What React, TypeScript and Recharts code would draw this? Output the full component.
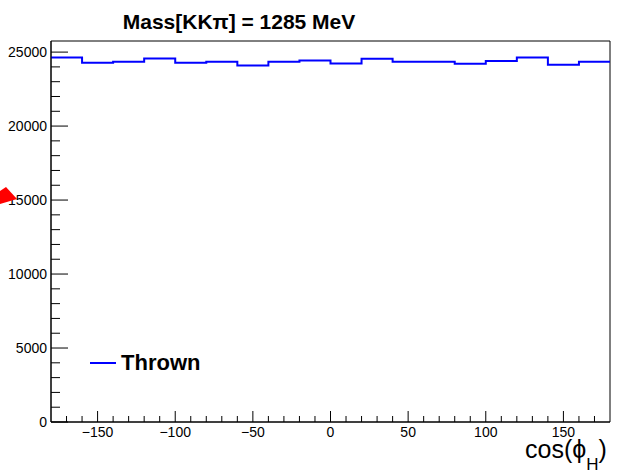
import React from "react"
import {
  ComposedChart,
  Line,
  XAxis,
  YAxis,
  ReferenceArea,
  Legend,
} from "recharts"

// bin low edges (deg) and thrown counts per bin
const binEdges = [-180, -160, -140, -120, -100, -80, -60, -40, -20, 0, 20, 40, 60, 80, 100, 120, 140, 160]
const thrown = [24635, 24280, 24345, 24570, 24280, 24345, 24100, 24345, 24440, 24230, 24550, 24350, 24350, 24210, 24400, 24630, 24150, 24350]
const xMax = 180

const xMajorTicks = [-150, -100, -50, 0, 50, 100, 150]
const yMajorTicks = [0, 5000, 10000, 15000, 20000, 25000]

const xTicks = Array.from({ length: 35 }, (_, i) => -170 + i * 10)
const yTicks = Array.from({ length: 26 }, (_, i) => i * 1000)

const FONT = "'Liberation Sans', Arial, Helvetica, sans-serif"

// stepAfter needs a closing point at the upper edge
const data = [
  ...binEdges.map((x, i) => ({ x, thrown: thrown[i] })),
  { x: xMax, thrown: thrown[thrown.length - 1] },
]

const fmt = (v: number) => (v < 0 ? "\u2212" + Math.abs(v) : String(v))

function XTick(props: any) {
  const { x, y, payload } = props
  const major = xMajorTicks.includes(payload.value)
  return (
    <g>
      <line x1={x} x2={x} y1={y} y2={y - (major ? 11 : 6)} stroke="#000" />
      {major && (
        <text x={x} y={y + 15} textAnchor="middle" fontSize={14} fontFamily={FONT} fill="#000">
          {fmt(payload.value)}
        </text>
      )}
    </g>
  )
}

function YTick(props: any) {
  const { x, y, payload } = props
  const major = yMajorTicks.includes(payload.value)
  return (
    <g>
      <line x1={x} x2={x + (major ? 17 : 9)} y1={y} y2={y} stroke="#000" />
      {major && (
        <text x={x - 4} y={y + 5} textAnchor="end" fontSize={14} fontFamily={FONT} fill="#000">
          {payload.value}
        </text>
      )}
    </g>
  )
}

function ThrownLegend() {
  return (
    <div style={{ display: "flex", alignItems: "center", fontFamily: FONT }}>
      <svg width={30} height={20}>
        <line x1={2} x2={28} y1={10} y2={10} stroke="#0000ff" strokeWidth={2} />
      </svg>
      <span style={{ fontSize: 22, fontWeight: "bold", color: "#000", marginLeft: 3 }}>Thrown</span>
    </div>
  )
}

export default function App() {
  return (
    <div style={{ position: "absolute", left: 0, top: 0, width: 635, height: 476, background: "#fff" }}>
      <ComposedChart
        width={635}
        height={476}
        data={data}
        margin={{ top: 41, right: 25, bottom: 34, left: 0 }}
      >
        <XAxis
          dataKey="x"
          type="number"
          domain={[-180, 180]}
          ticks={xTicks}
          interval={0}
          tickSize={0}
          tickMargin={0}
          height={20}
          axisLine={{ stroke: "#000" }}
          tick={<XTick />}
        />
        <YAxis
          type="number"
          domain={[0, 25750]}
          ticks={yTicks}
          interval={0}
          tickSize={0}
          tickMargin={0}
          width={51}
          axisLine={{ stroke: "#000" }}
          tick={<YTick />}
        />
        <ReferenceArea x1={-180} x2={180} y1={0} y2={25750} fill="none" stroke="#000" strokeWidth={1} />
        <Line
          dataKey="thrown"
          type="stepAfter"
          stroke="#0000ff"
          strokeWidth={2}
          dot={false}
          isAnimationActive={false}
        />
        <Legend
          layout="horizontal"
          verticalAlign="middle"
          align="center"
          content={<ThrownLegend />}
          wrapperStyle={{ left: 88, top: 350, width: "auto" }}
        />
      </ComposedChart>
      <svg width={635} height={476} style={{ position: "absolute", left: 0, top: 0, pointerEvents: "none" }}>
        <text x={239} y={29} textAnchor="middle" fontSize={21} fontWeight="bold" fontFamily={FONT} fill="#000">
          Mass[KK{"\u03c0"}] = 1285 MeV
        </text>
        <text x={525} y={458} fontSize={25} fontFamily={FONT} fill="#000">
          cos({"\u03d5"}
          <tspan fontSize={17} dy={12}>H</tspan>
          <tspan dy={-12}>)</tspan>
        </text>
        <polygon points="6,187 17,199 0,204 0,191" fill="#ff0000" />
      </svg>
    </div>
  )
}
